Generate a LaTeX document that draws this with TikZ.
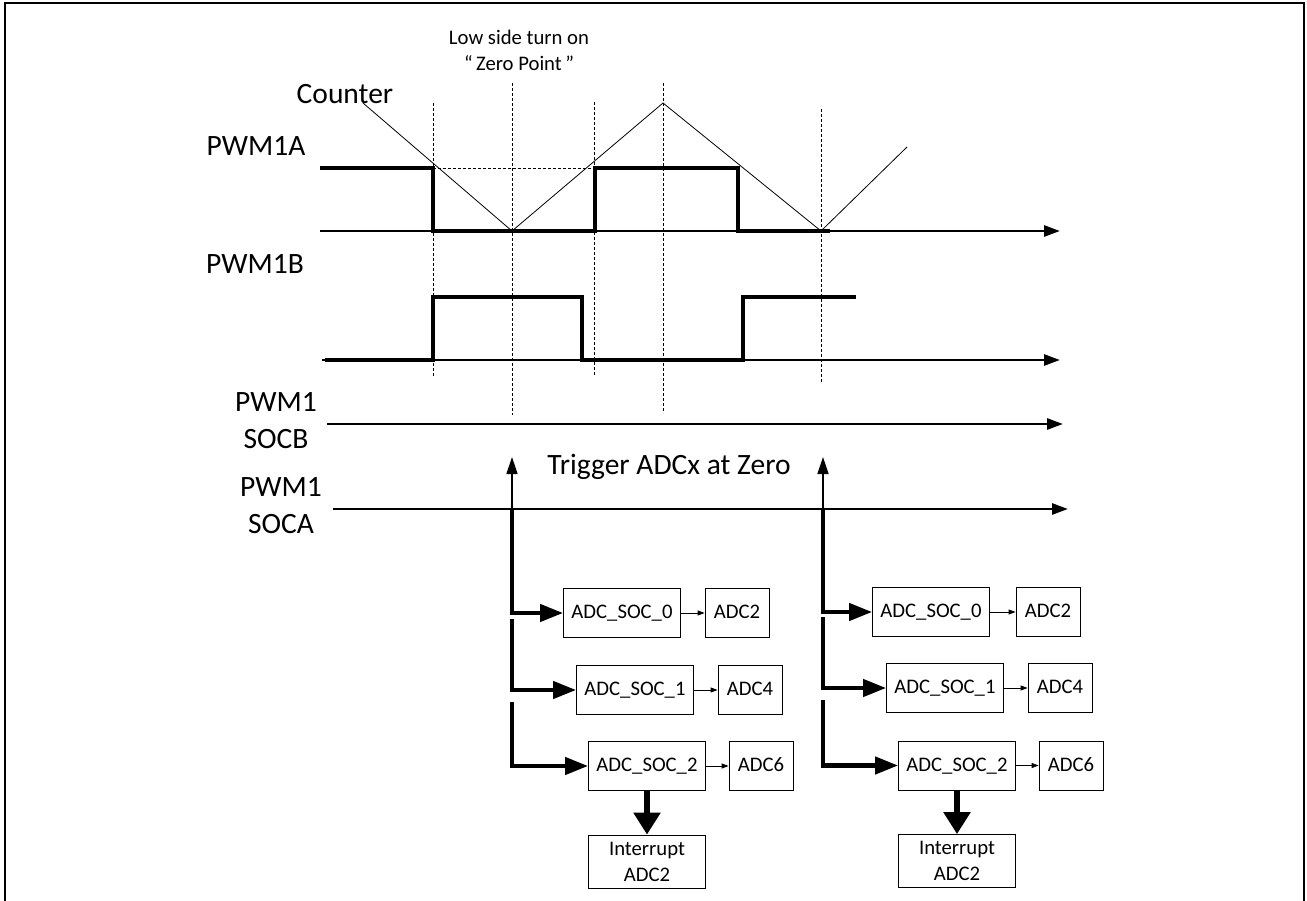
\documentclass[tikz,border=0pt]{standalone}
\usepackage{fontspec}
\setmainfont{Carlito}
\usetikzlibrary{arrows.meta}
\newcommand{\lblfont}{\fontsize{29.5}{37}\selectfont}
\newcommand{\boxfont}{\fontsize{20.7}{26}\selectfont}

\begin{document}
\begin{tikzpicture}[x=1pt, y=-1pt,
    lbl/.style={font=\lblfont, align=center, inner sep=0pt},
    note/.style={font=\boxfont, align=center, inner sep=0pt},
    soc/.style={draw, line width=0.8pt, font=\boxfont, minimum width=117pt, minimum height=49pt, inner sep=2pt, text height=14pt, text depth=3pt},
    adc/.style={soc, minimum width=64pt},
    irq/.style={draw, line width=0.8pt, font=\boxfont, minimum width=117pt, minimum height=53pt, inner sep=2pt, align=center},
    axisln/.style={line width=2.7pt, -{Triangle[length=16pt,width=11pt]}},
    wave/.style={line width=4.5pt},
    cnt/.style={line width=0.8pt},
    guide/.style={line width=0.8pt, dash pattern=on 3pt off 2pt},
    trig/.style={line width=1.5pt, -{Triangle[length=17pt,width=11pt]}},
    bus/.style={line width=4.3pt, -{Triangle[length=23pt,width=17pt]}},
    link/.style={line width=0.8pt, -{Triangle[length=7pt,width=5pt]}},
    irqarr/.style={line width=6pt, -{Triangle[length=22pt,width=26pt]}}]
  \useasboundingbox (0,0) rectangle (1307,901);
  \draw[line width=2.7pt] (5,901) -- (5,3) -- (1304,3) -- (1304,901);
  % labels
  \node[note] (zero) at (519,50)  {Low side turn on\\“\,Zero Point\,”};
  \node[lbl]  (cnt)  at (345,94)  {Counter};
  \node[lbl]  (pa)   at (256,146) {PWM1A};
  \node[lbl]  (pb)   at (255,264) {PWM1B};
  \node[lbl]  (socb) at (276,421) {PWM1\\SOCB};
  \node[lbl]  (soca) at (281,506) {PWM1\\SOCA};
  \node[lbl]  (trg)  at (669,467) {Trigger ADCx at Zero};
  % time axes
  \draw[axisln] (320,231) -- (1060,231);
  \draw[axisln] (322,360) -- (1060,360);
  \draw[axisln] (327,424) -- (1063,424);
  \draw[axisln] (333,509) -- (1068,509);
  % guides
  \foreach \x/\a/\b in {433/103/376, 512/83/415, 594/102/376, 663/83/413, 821/109/382}
    \draw[guide] (\x,\a) -- (\x,\b);
  \draw[guide] (433,168) -- (594,168);
  % counter and outputs
  \draw[cnt] (363,103) -- (512,231) -- (663,103) -- (821,231) -- (907,147);
  \draw[wave] (320,168) -- (433,168) -- (433,231) -- (595,231) -- (595,168) -- (738,168) -- (738,231) -- (830,231);
  \draw[wave] (325,360) -- (433,360) -- (433,297) -- (582,297) -- (582,360) -- (743,360) -- (743,297) -- (856,297);
  % SOC boxes
  \node[soc] (socL0) at (622,613)   {ADC\_SOC\_0};
  \node[adc] (adcL0) at (737,613)   {ADC2};
  \node[soc] (socL1) at (635,690)   {ADC\_SOC\_1};
  \node[adc] (adcL1) at (750,690)   {ADC4};
  \node[soc] (socL2) at (647,766)   {ADC\_SOC\_2};
  \node[adc] (adcL2) at (761,766)   {ADC6};
  \node[irq] (irqL)  at (647,861.5) {Interrupt\\ADC2};
  \node[soc] (socR0) at (931,612)   {ADC\_SOC\_0};
  \node[adc] (adcR0) at (1048,612)  {ADC2};
  \node[soc] (socR1) at (945,688)   {ADC\_SOC\_1};
  \node[adc] (adcR1) at (1060,688)  {ADC4};
  \node[soc] (socR2) at (957,765.5) {ADC\_SOC\_2};
  \node[adc] (adcR2) at (1071,765.5){ADC6};
  \node[irq] (irqR)  at (957,861)   {Interrupt\\ADC2};
  % triggers
  \coordinate (zl) at (512,509); \coordinate (tl) at (512,457);
  \coordinate (bl1) at (512,619); \coordinate (bl2) at (512,702);
  \coordinate (zr) at (823,509); \coordinate (tr) at (823,457);
  \coordinate (br1) at (823,617); \coordinate (br2) at (823,700);
  \draw[trig] (zl) -- (tl); \draw[trig] (zr) -- (tr);
  \draw[bus] (zl) |- (socL0.west); \draw[bus] (bl1) |- (socL1.west); \draw[bus] (bl2) |- (socL2.west);
  \draw[bus] (zr) |- (socR0.west); \draw[bus] (br1) |- (socR1.west); \draw[bus] (br2) |- (socR2.west);
  \draw[link] (socL0) -- (adcL0); \draw[link] (socL1) -- (adcL1); \draw[link] (socL2) -- (adcL2);
  \draw[link] (socR0) -- (adcR0); \draw[link] (socR1) -- (adcR1); \draw[link] (socR2) -- (adcR2);
  \draw[irqarr] (socL2) -- (irqL); \draw[irqarr] (socR2) -- (irqR);
\end{tikzpicture}
\end{document}
